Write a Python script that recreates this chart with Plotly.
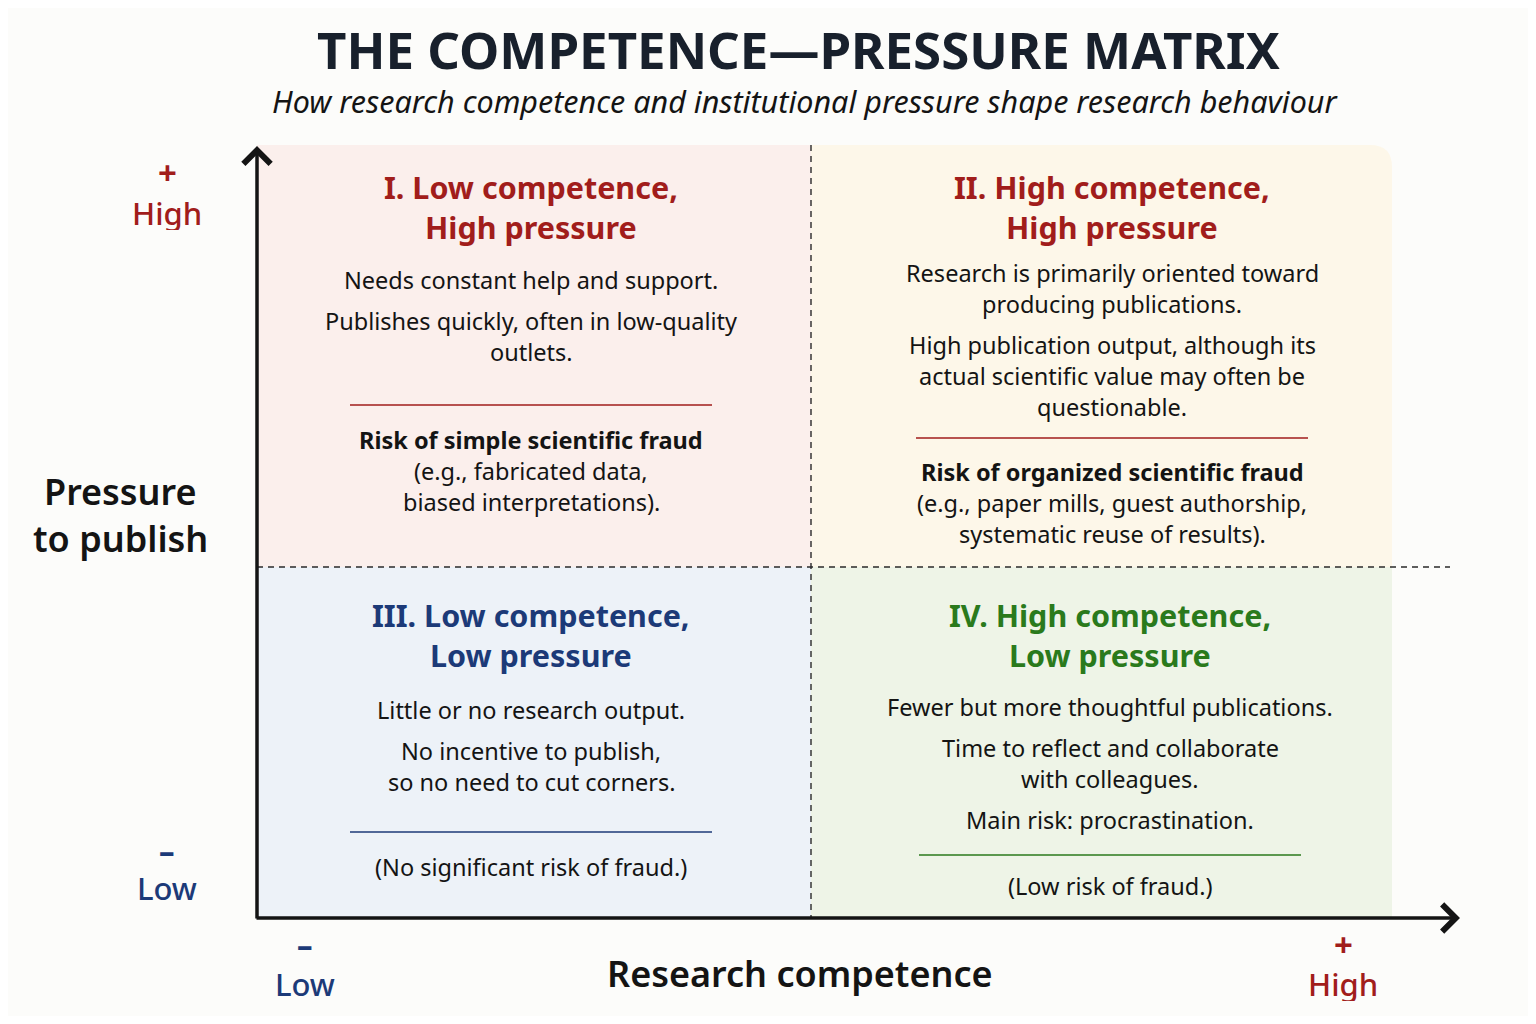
import plotly.graph_objects as go

# ---- content ----
title = "THE COMPETENCE\u2014PRESSURE MATRIX"
subtitle = "How research competence and institutional pressure shape research behaviour"

quadrant_names = ["I", "II", "III", "IV"]
quadrant_titles = [
    ["I. Low competence,", "High pressure"],
    ["II. High competence,", "High pressure"],
    ["III. Low competence,", "Low pressure"],
    ["IV. High competence,", "Low pressure"],
]
quadrant_body = [
    [["Needs constant help and support."],
     ["Publishes quickly, often in low-quality", "outlets."]],
    [["Research is primarily oriented toward", "producing publications."],
     ["High publication output, although its", "actual scientific value may often be", "questionable."]],
    [["Little or no research output."],
     ["No incentive to publish,", "so no need to cut corners."]],
    [["Fewer but more thoughtful publications."],
     ["Time to reflect and collaborate", "with colleagues."],
     ["Main risk: procrastination."]],
]
risk_heads = ["Risk of simple scientific fraud", "Risk of organized scientific fraud", None, None]
risk_lines = [
    ["(e.g., fabricated data,", "biased interpretations)."],
    ["(e.g., paper mills, guest authorship,", "systematic reuse of results)."],
    ["(No significant risk of fraud.)"],
    ["(Low risk of fraud.)"],
]
y_label = ["Pressure", "to publish"]
x_label = "Research competence"
high_label = ["+", "High"]
low_label = ["\u2013", "Low"]

# ---- styling ----
W, H = 1536, 1024
PAD = 8  # page body margin of the browser
BG = "#fcfcfa"
RED = "#a11d1b"
NAVY = "#1c3a78"
GREEN = "#2a7a1c"
INK = "#141414"
FONT = "Noto Sans"

fills = ["#fbefec", "#fdf7e9", "#edf2f8", "#eef4e7"]
title_colors = [RED, RED, NAVY, GREEN]

x0, xm, x1, xarrow = 257, 811, 1392, 1460
y0, ym, y1, yarrow = 918, 567, 145, 146
centers_x = [531, 1112, 531, 1110]
title_y = [[187, 227], [187, 227], [615, 655], [615, 655]]
body_start = [280, 273, 710, 707]
para_gap = 10
line_h = 31
rule_y = [405, 438, 832, 855]
rule_half = [181, 196, 181, 191]
risk_start = [440, 472, 867, 886]

BODY = 23.5
QTITLE = 30.5

fig = go.Figure()
shapes = []
ann = []

# quadrant backgrounds
rects = [(x0, y1, xm, ym), (xm, y1, x1, ym), (x0, ym, xm, y0), (xm, ym, x1, y0)]
for i, (a, b, c, d) in enumerate(rects):
    if i == 1:
        r = 22
        path = (f"M {a},{d} L {a},{b} L {c - r},{b} Q {c},{b} {c},{b + r} "
                f"L {c},{d} Z")
        shapes.append(dict(type="path", path=path, fillcolor=fills[i],
                           line=dict(width=0), layer="below"))
    else:
        shapes.append(dict(type="rect", x0=a, y0=b, x1=c, y1=d,
                           fillcolor=fills[i], line=dict(width=0), layer="below"))

# dashed dividers
shapes.append(dict(type="line", x0=xm, x1=xm, y0=y1, y1=y0,
                   line=dict(color="#2a2a2a", width=1.4, dash="6px,5px")))
shapes.append(dict(type="line", x0=x0, x1=1450, y0=ym, y1=ym,
                   line=dict(color="#2a2a2a", width=1.4, dash="6px,5px")))

# axes with arrows
ann.append(dict(x=x0, y=yarrow, ax=x0, ay=y0 + 2, xref="x", yref="y", axref="x", ayref="y",
                showarrow=True, arrowhead=4, arrowsize=1.5, arrowwidth=3.5,
                arrowcolor=INK, text=""))
ann.append(dict(x=xarrow, y=y0, ax=x0 - 2, ay=y0, xref="x", yref="y", axref="x", ayref="y",
                showarrow=True, arrowhead=4, arrowsize=1.5, arrowwidth=3.5,
                arrowcolor=INK, text=""))


def label(x, y, text, size, color=INK, weight=400, style="normal", box_h=None):
    a = dict(x=x, y=y, xref="x", yref="y", text=text, showarrow=False,
             xanchor="center", yanchor="middle",
             font=dict(family=FONT, size=size, color=color,
                       weight=weight, style=style))
    if box_h:
        a["height"] = box_h
    ann.append(a)


# quadrant texts
for q in range(4):
    cx = centers_x[q]
    for t, yy in zip(quadrant_titles[q], title_y[q]):
        label(cx, yy, t, QTITLE, title_colors[q], 700)
    yy = body_start[q]
    for para in quadrant_body[q]:
        for ln in para:
            label(cx, yy, ln, BODY)
            yy += line_h
        yy += para_gap
    shapes.append(dict(type="line", x0=cx - rule_half[q], x1=cx + rule_half[q],
                       y0=rule_y[q], y1=rule_y[q],
                       line=dict(color=title_colors[q], width=1.6)))
    yy = risk_start[q]
    if risk_heads[q]:
        label(cx, yy, risk_heads[q], BODY, INK, 700)
        yy += line_h
    for ln in risk_lines[q]:
        label(cx, yy, ln, BODY)
        yy += line_h

# title
label(798, 49, title, 51, "#18202c", 700, box_h=54)
label(805, 101, subtitle, 30.5, INK, 400, "italic")

# axis labels
label(167, 172, high_label[0], 33, RED, 700, box_h=24)
label(167, 213, high_label[1], 31, RED, 500, box_h=34)
label(120, 491, y_label[0], 36, INK, 600)
label(120, 538, y_label[1], 36, INK, 600)
label(167, 850, low_label[0], 31, NAVY, 800, box_h=20)
label(167, 888, low_label[1], 31, NAVY, 500, box_h=34)
label(305, 944, low_label[0], 31, NAVY, 800, box_h=20)
label(305, 984, low_label[1], 31, NAVY, 500, box_h=34)
label(800, 973, x_label, 36, INK, 600)
label(1343, 944, high_label[0], 33, RED, 700, box_h=24)
label(1343, 984, high_label[1], 31, RED, 500, box_h=34)

# the page has an 8px body margin, so the figure is sized to fit inside it
fig.update_layout(
    width=W - 2 * PAD, height=H - 2 * PAD,
    margin=dict(l=0, r=0, t=0, b=0),
    paper_bgcolor=BG, plot_bgcolor=BG,
    xaxis=dict(range=[PAD, W - PAD], visible=False, fixedrange=True),
    yaxis=dict(range=[H - PAD, PAD], visible=False, fixedrange=True),
    shapes=shapes, annotations=ann, showlegend=False,
)

fig.write_html("out.html")
